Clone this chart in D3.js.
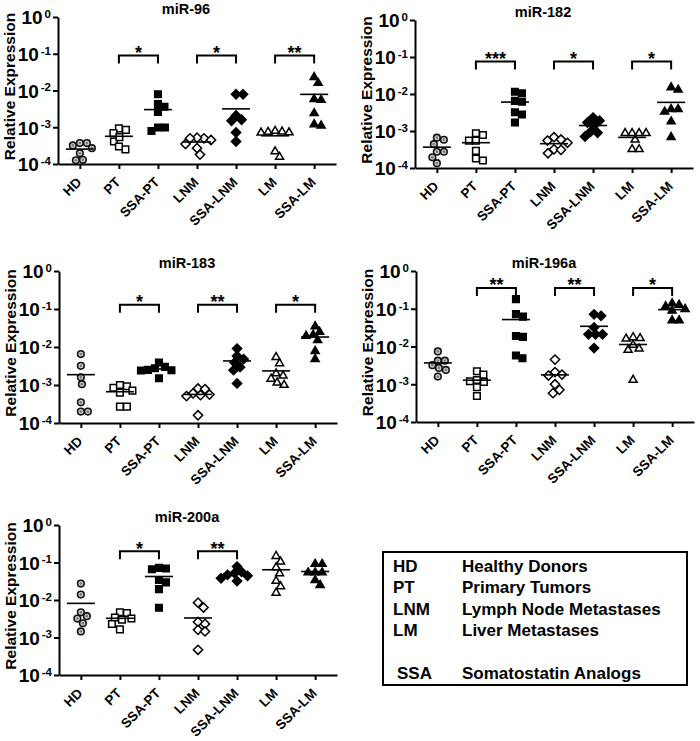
<!DOCTYPE html>
<html><head><meta charset="utf-8">
<script src="https://cdn.jsdelivr.net/npm/d3@7"></script>
<style>
body{margin:0;background:#fff}
text{font-family:"Liberation Sans",Arial,Helvetica,sans-serif;font-weight:bold;fill:#000}
</style>
</head><body>
<svg id="c" width="700" height="741"></svg>
<script>
// ---------------- DATA ----------------
const categories = ["HD","PT","SSA-PT","LNM","SSA-LNM","LM","SSA-LM"];
const panelTitles = ["miR-96","miR-182","miR-183","miR-196a","miR-200a"];
const tickValues = [1, 0.1, 0.01, 0.001, 0.0001];

// relative expression values, one array per category (order = categories)
const mir96 = [
  [3.7e-4, 3.2e-4, 2.7e-4, 3.7e-4, 1.95e-4, 1.26e-4, 1.3e-4],
  [9.3e-4, 6.9e-4, 8.5e-4, 4.1e-4, 5.4e-4, 2.5e-4, 3.0e-4],
  [7.9e-3, 3.6e-3, 4.3e-3, 2.6e-3, 9.8e-4, 7.9e-4, 9.8e-4],
  [5.0e-4, 5.2e-4, 5.0e-4, 4.5e-4, 3.5e-4, 2.7e-4, 1.8e-4],
  [7.9e-3, 7.9e-3, 1.6e-3, 1.5e-3, 2.1e-3, 7.2e-4, 4.1e-4],
  [7.6e-4, 7.2e-4, 7.4e-4, 7.9e-4, 7.1e-4, 2.2e-4, 1.55e-4],
  [2.3e-2, 1.6e-2, 5.5e-3, 5.8e-3, 2.4e-3, 1.1e-3, 1.2e-3]
];
const mir182 = [
  [5.8e-4, 6.6e-4, 4.4e-4, 2.75e-4, 2.75e-4, 1.95e-4, 1.35e-4],
  [7.8e-4, 5.5e-4, 8.7e-4, 5.5e-4, 2.9e-4, 1.6e-4, 1.8e-4],
  [1.15e-2, 1.05e-2, 6.5e-3, 6.2e-3, 3.2e-3, 2.8e-3, 1.7e-3],
  [6.8e-4, 5.5e-4, 4.8e-4, 5.9e-4, 3.2e-4, 2.5e-4, 3.1e-4],
  [2.3e-3, 1.7e-3, 1.4e-3, 1.9e-3, 9.5e-4, 7.1e-4, 8.9e-4],
  [8.7e-4, 8.7e-4, 8.7e-4, 8.7e-4, 5.8e-4, 3.2e-4, 3.2e-4],
  [1.5e-2, 1.3e-2, 3.9e-3, 3.3e-3, 3.9e-3, 1.8e-3, 6.8e-4]
];
const mir183 = [
  [6.5e-3, 3.2e-3, 1.6e-3, 1.05e-3, 3.5e-4, 2.0e-4, 2.0e-4],
  [9.3e-4, 8.5e-4, 1.0e-3, 7.1e-4, 6.3e-4, 2.7e-4, 2.7e-4],
  [3.0e-3, 2.75e-3, 3.9e-3, 2.45e-3, 1.5e-3, 2.4e-3, 2.5e-3],
  [8.1e-4, 7.8e-4, 6.0e-4, 5.6e-4, 5.1e-4, 5.4e-4, 1.6e-4],
  [9.1e-3, 5.8e-3, 4.8e-3, 3.9e-3, 2.95e-3, 2.45e-3, 1.1e-3],
  [5.4e-3, 3.7e-3, 2.0e-3, 1.45e-3, 1.75e-3, 1.0e-3, 1.15e-3],
  [3.5e-2, 2.5e-2, 1.95e-2, 2.1e-2, 1.5e-2, 7.8e-3, 4.8e-3]
];
const mir196a = [
  [7.4e-3, 4.2e-3, 3.2e-3, 4.2e-3, 2.7e-3, 2.4e-3, 1.6e-3],
  [2.2e-3, 1.8e-3, 1.3e-3, 1.2e-3, 1.15e-3, 8.3e-4, 4.9e-4],
  [0.18, 6.2e-2, 7.2e-2, 1.9e-2, 1.8e-2, 4.9e-3, 5.8e-3],
  [4.5e-3, 2.1e-3, 1.8e-3, 1.7e-3, 1.0e-3, 7.1e-4, 5.8e-4],
  [6.5e-2, 7.1e-2, 3.2e-2, 2.1e-2, 2.1e-2, 2.1e-2, 9.1e-3],
  [1.75e-2, 1.6e-2, 1.65e-2, 8.7e-3, 8.1e-3, 1.1e-2, 1.3e-3],
  [0.138, 0.115, 0.098, 0.126, 0.089, 0.049, 0.049]
];
const mir200a = [
  [2.75e-2, 1.4e-2, 4.7e-3, 3.7e-3, 3.2e-3, 2.4e-3, 1.45e-3],
  [4.5e-3, 4.7e-3, 3.4e-3, 3.2e-3, 3.0e-3, 2.3e-3, 1.65e-3],
  [7.2e-2, 6.6e-2, 6.9e-2, 3.4e-2, 2.95e-2, 1.95e-2, 6.2e-3],
  [8.5e-3, 6.3e-3, 2.6e-3, 2.3e-3, 1.6e-3, 1.45e-3, 4.7e-4],
  [7.8e-2, 5.6e-2, 5.2e-2, 4.7e-2, 4.4e-2, 3.8e-2, 3.2e-2],
  [0.148, 0.105, 0.074, 0.051, 0.032, 0.023, 0.0155],
  [9.1e-2, 9.1e-2, 5.4e-2, 5.4e-2, 5.4e-2, 2.5e-2, 3.4e-2]
];
const panelData = [mir96, mir182, mir183, mir196a, mir200a];

// significance comparisons per panel
const sig96   = [["PT","SSA-PT","*"],["LNM","SSA-LNM","*"],["LM","SSA-LM","**"]];
const sig182  = [["PT","SSA-PT","***"],["LNM","SSA-LNM","*"],["LM","SSA-LM","*"]];
const sig183  = [["PT","SSA-PT","*"],["LNM","SSA-LNM","**"],["LM","SSA-LM","*"]];
const sig196a = [["PT","SSA-PT","**"],["LNM","SSA-LNM","**"],["LM","SSA-LM","*"]];
const sig200a = [["PT","SSA-PT","*"],["LNM","SSA-LNM","**"]];
const panelSig = [sig96, sig182, sig183, sig196a, sig200a];
const bracketLevel = [0.089, 0.076, 0.13, 0.355, 0.2];

const legendKeys   = ["HD","PT","LNM","LM","","SSA"];
const legendLabels = ["Healthy Donors","Primary Tumors","Lymph Node Metastases","Liver Metastases","","Somatostatin Analogs"];

// ---------------- LAYOUT ----------------
const panels = [
  {ax:58,  top:17,  bottom:164},
  {ax:415, top:20,  bottom:168},
  {ax:59,  top:271, bottom:423},
  {ax:416, top:271, bottom:422},
  {ax:59,  top:525, bottom:675}
];
const AXLEN = 278;
const markerStyle = {
  "HD":      {shape:"circle",   fill:"#d4d4d4"},
  "PT":      {shape:"square",   fill:"#fff"},
  "SSA-PT":  {shape:"square",   fill:"#000"},
  "LNM":     {shape:"diamond",  fill:"#fff"},
  "SSA-LNM": {shape:"diamond",  fill:"#000"},
  "LM":      {shape:"triangle", fill:"#fff"},
  "SSA-LM":  {shape:"triangle", fill:"#000"}
};
function shapePath(shape){
  if (shape === "square"){ const s=3.3; return `M${-s},${-s}H${s}V${s}H${-s}Z`; }
  if (shape === "diamond"){ const s=4.6; return `M0,${-s}L${s},0L0,${s}L${-s},0Z`; }
  if (shape === "triangle"){ const a=8.0, h=a*Math.sqrt(3)/2; return `M0,${-2*h/3}L${a/2},${h/3}L${-a/2},${h/3}Z`; }
  return null;
}
function swarm(ys, D){
  const order = ys.map((v,i)=>i).sort((a,b)=>ys[a]-ys[b]);
  const placed = [], xs = new Array(ys.length);
  order.forEach(i=>{
    const cands=[0]; for(let k=1;k<60;k++){cands.push(k*0.5,-k*0.5);}
    for(const cx of cands){
      if (placed.every(p=>Math.hypot(p.x-cx,p.y-ys[i])>=D)){ xs[i]=cx; placed.push({x:cx,y:ys[i]}); break; }
    }
  });
  return xs;
}

const svg = d3.select("#c");

panels.forEach((p, pi) => {
  const g = svg.append("g");
  const y = d3.scaleLog().domain([1e-4, 1]).range([p.bottom, p.top]);
  const x = d3.scalePoint().domain(categories).range([p.ax, p.ax + AXLEN]).padding(0.56);

  // y axis
  const ya = g.append("g").attr("transform", `translate(${p.ax},0)`)
    .call(d3.axisLeft(y).tickValues(tickValues).tickSize(5).tickSizeOuter(0).tickPadding(2).tickFormat(""));
  ya.select(".domain").attr("stroke","#000").attr("stroke-width",2);
  ya.selectAll(".tick line").attr("stroke","#000").attr("stroke-width",2);
  ya.selectAll(".tick text").each(function(d){
    const t = d3.select(this).text(null).attr("font-size",19).attr("dy","0.36em").attr("fill","#000");
    const e = Math.round(Math.log10(d));
    t.append("tspan").text("10");
    t.append("tspan").attr("font-size",11.5).attr("dy",-6.5).attr("dx",2).text(e===0 ? "0" : "-" + (-e));
  });

  // x axis
  const xa = g.append("g").attr("transform", `translate(0,${p.bottom})`)
    .call(d3.axisBottom(x).tickSize(5).tickSizeOuter(0));
  xa.select(".domain").attr("stroke","#000").attr("stroke-width",2);
  xa.selectAll(".tick line").attr("stroke","#000").attr("stroke-width",2);
  xa.selectAll(".tick text")
    .attr("x",0).attr("y",0).attr("dy",0)
    .attr("transform","translate(2,19) rotate(-45)")
    .attr("text-anchor","end").attr("font-size",13.5).attr("fill","#000");

  // axis title
  g.append("text")
    .attr("transform", `translate(${p.ax-43},${(p.top+p.bottom)/2 - 4}) rotate(-90)`)
    .attr("text-anchor","middle").attr("font-size",15.5)
    .text("Relative Expression");

  // panel title
  g.append("text").attr("x", p.ax + 128).attr("y", p.top - 3.5)
    .attr("text-anchor","middle").attr("font-size",14.5).text(panelTitles[pi]);

  // points + means
  const data = panelData[pi];
  categories.forEach((c, ci) => {
    const vals = data[ci];
    const ys = vals.map(v => y(v));
    const offs = swarm(ys, 7.0);
    const st = markerStyle[c];
    const cg = g.append("g");
    vals.forEach((v, k) => {
      const cx = x(c) + offs[k], cy = ys[k];
      if (st.shape === "circle"){
        cg.append("circle").attr("cx",cx).attr("cy",cy).attr("r",3.3)
          .attr("fill",st.fill).attr("stroke","#111").attr("stroke-width",1.6);
        cg.append("circle").attr("cx",cx).attr("cy",cy).attr("r",1.4).attr("fill","#7a7a7a");
      } else {
        cg.append("path").attr("d", shapePath(st.shape)).attr("transform",`translate(${cx},${cy})`)
          .attr("fill",st.fill).attr("stroke","#000").attr("stroke-width",1.5).attr("stroke-linejoin","miter");
      }
    });
    const m = d3.mean(vals);
    g.append("line").attr("x1",x(c)-14).attr("x2",x(c)+14).attr("y1",y(m)).attr("y2",y(m))
      .attr("stroke","#000").attr("stroke-width",1.6);
  });

  // significance brackets
  const yb = y(bracketLevel[pi]);
  panelSig[pi].forEach(([a, b, s]) => {
    g.append("path").attr("d", `M${x(a)},${yb+8}V${yb}H${x(b)}V${yb+8}`)
      .attr("fill","none").attr("stroke","#000").attr("stroke-width",2);
    g.append("text").attr("x",(x(a)+x(b))/2).attr("y",yb+3.5)
      .attr("text-anchor","middle").attr("font-size",18).text(s);
  });
});

// legend
const lg = svg.append("g");
lg.append("rect").attr("x",383).attr("y",552).attr("width",304).attr("height",133)
  .attr("fill","#fff").attr("stroke","#000").attr("stroke-width",2);
legendKeys.forEach((k, i) => {
  if (!k) return;
  const by = 572 + i*21.3;
  lg.append("text").attr("x", k === "SSA" ? 397 : 393).attr("y", by).attr("font-size",17).text(k);
  lg.append("text").attr("x", 462).attr("y", by).attr("font-size",17).text(legendLabels[i]);
});
</script>
</body></html>
